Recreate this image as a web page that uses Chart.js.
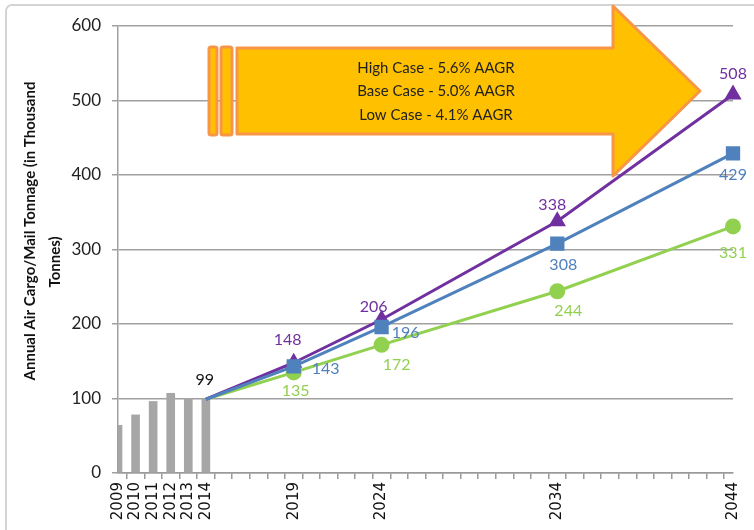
<!DOCTYPE html>
<html>
<head>
<meta charset="utf-8">
<title>Annual Air Cargo/Mail Tonnage Forecast</title>
<script src="https://cdn.jsdelivr.net/npm/chart.js@4/dist/chart.umd.min.js"></script>
<style>
  html, body { margin: 0; padding: 0; background: #fff; }
  #wrap { width: 754px; height: 530px; }
</style>
</head>
<body>
<div id="wrap"><canvas id="myChart" width="754" height="530"></canvas></div>
<script>
// categories (every year on the axis)
const years = ['2009', '2010', '2011', '2012', '2013', '2014', '2015', '2016', '2017', '2018',
  '2019', '2020', '2021', '2022', '2023', '2024', '2025', '2026', '2027', '2028',
  '2029', '2030', '2031', '2032', '2033', '2034', '2035', '2036', '2037', '2038',
  '2039', '2040', '2041', '2042', '2043', '2044'];
const shownYears = ['2009', '2010', '2011', '2012', '2013', '2014', '2019', '2024', '2034', '2044'];

// historical tonnage (bars)
const histYears = ['2009', '2010', '2011', '2012', '2013', '2014'];
const histValues = [64, 78, 96, 107, 100, 99];

// forecast cases
const forecastYears = ['2014', '2019', '2024', '2034', '2044'];
const highCase = [99, 148, 206, 338, 508];
const baseCase = [99, 143, 196, 308, 429];
const lowCase = [99, 135, 172, 244, 331];

const yTicks = [0, 100, 200, 300, 400, 500, 600];
const yTitle = ['Annual Air Cargo/Mail Tonnage (in Thousand', 'Tonnes)'];
const arrowLines = ['High Case - 5.6% AAGR', 'Base Case - 5.0% AAGR', 'Low Case - 4.1% AAGR'];

function spread(keys, vals) {
  return years.map(y => {
    const i = keys.indexOf(y);
    return i === -1 ? null : vals[i];
  });
}

const purple = '#7030a0', blue = '#4f81bd', green = '#92d050', grey = '#a6a6a6';
const startIdx = years.indexOf('2014');

// where each value label sits relative to its point
const labelOffsets = {
  high: [null, [-6, -23], [-8, -13], [-5, -16], [0, -21]],
  base: [null, [32, 2], [24, 6], [6, 21], [0, 21]],
  low: [null, [2, 18], [15, 20], [11, 20], [0, 26]]
};

const decorations = {
  id: 'decorations',
  beforeDraw(chart) {
    const c = chart.ctx;
    c.save();
    c.strokeStyle = '#d4d4d4';
    c.lineWidth = 2;
    c.beginPath();
    c.roundRect(6, 5, 800, 600, 6);
    c.stroke();
    c.restore();
  },
  beforeDatasetsDraw(chart) {
    const c = chart.ctx;
    c.save();
    c.fillStyle = '#ffc000';
    c.strokeStyle = '#f79646';
    c.lineWidth = 3;
    c.lineJoin = 'round';
    // two thin stripes
    c.beginPath(); c.roundRect(209, 47, 8, 88, 2); c.fill(); c.stroke();
    c.beginPath(); c.roundRect(221, 47, 11, 88, 2); c.fill(); c.stroke();
    // arrow body + head
    c.beginPath();
    c.moveTo(237, 48);
    c.lineTo(613, 48);
    c.lineTo(613, 6);
    c.lineTo(700, 91);
    c.lineTo(613, 176);
    c.lineTo(613, 134);
    c.lineTo(237, 134);
    c.closePath();
    c.fill(); c.stroke();
    c.fillStyle = '#222';
    c.font = '15px Lato';
    c.textAlign = 'center';
    c.textBaseline = 'middle';
    arrowLines.forEach((t, i) => c.fillText(t, 436, 68 + i * 23.5));
    c.restore();
  },
  afterDatasetsDraw(chart) {
    const c = chart.ctx;
    c.save();
    c.font = '16px Lato';
    c.textAlign = 'center';
    c.textBaseline = 'middle';
    const sets = [['high', 1, highCase, purple], ['base', 2, baseCase, blue], ['low', 3, lowCase, green]];
    sets.forEach(([key, di, vals, col]) => {
      const meta = chart.getDatasetMeta(di);
      c.fillStyle = col;
      forecastYears.forEach((y, i) => {
        const off = labelOffsets[key][i];
        if (!off) return;
        const p = meta.data[years.indexOf(y)];
        c.fillText(String(vals[i]), p.x + off[0], p.y + off[1]);
      });
    });
    const p0 = chart.getDatasetMeta(1).data[startIdx];
    c.fillStyle = '#111';
    c.fillText(String(histValues[histValues.length - 1]), p0.x - 1, p0.y - 19);

    // y axis title
    c.fillStyle = '#111';
    c.font = 'bold 15px Lato';
    c.translate(30, 231);
    c.rotate(-Math.PI / 2);
    c.fillText(yTitle[0], 0, 0);
    c.fillText(yTitle[1], -31, 25);
    c.restore();
  }
};

function pointR(r) {
  return ctx => ctx.dataIndex === startIdx ? 0 : r;
}

const ctx = document.getElementById('myChart').getContext('2d');
new Chart(ctx, {
  type: 'line',
  data: {
    labels: years,
    datasets: [
      {
        type: 'bar',
        label: 'Historical',
        data: spread(histYears, histValues),
        backgroundColor: grey,
        barThickness: 8,
        order: 4
      },
      {
        label: 'High Case',
        data: spread(forecastYears, highCase),
        borderColor: purple,
        backgroundColor: purple,
        borderWidth: 3,
        pointStyle: 'triangle',
        pointRadius: pointR(7),
        spanGaps: true,
        order: 2
      },
      {
        label: 'Base Case',
        data: spread(forecastYears, baseCase),
        borderColor: blue,
        backgroundColor: blue,
        borderWidth: 3,
        pointStyle: 'rect',
        pointRadius: pointR(8),
        spanGaps: true,
        order: 1
      },
      {
        label: 'Low Case',
        data: spread(forecastYears, lowCase),
        borderColor: green,
        backgroundColor: green,
        borderWidth: 3,
        pointStyle: 'circle',
        pointRadius: pointR(6.5),
        spanGaps: true,
        order: 3
      }
    ]
  },
  options: {
    responsive: false,
    animation: false,
    events: [],
    layout: { padding: { left: 0, top: 26, right: 17, bottom: 0 } },
    plugins: { legend: { display: false }, tooltip: { enabled: false } },
    scales: {
      x: {
        offset: false,
        afterFit: s => { s.height = 57; },
        grid: { drawOnChartArea: false, color: '#9a9a9a', tickLength: 6, lineWidth: 1.5 },
        border: { color: '#9a9a9a', width: 1.5 },
        ticks: {
          autoSkip: false,
          maxRotation: 90,
          minRotation: 90,
          padding: 3,
          color: '#111',
          font: { family: 'DejaVu Sans', size: 15 },
          callback: function (v) {
            const y = this.getLabelForValue(v);
            return shownYears.includes(y) ? y : '';
          }
        }
      },
      y: {
        min: yTicks[0],
        max: yTicks[yTicks.length - 1],
        afterFit: s => { s.width = 118; },
        afterBuildTicks: s => { s.ticks = yTicks.map(v => ({ value: v })); },
        grid: { color: '#a0a0a0', tickLength: 6, lineWidth: 1.5 },
        border: { color: '#a0a0a0', width: 1.5 },
        ticks: {
          padding: 11,
          color: '#222',
          font: { family: 'Lato', size: 17 }
        }
      }
    }
  },
  plugins: [decorations]
});
</script>
</body>
</html>
